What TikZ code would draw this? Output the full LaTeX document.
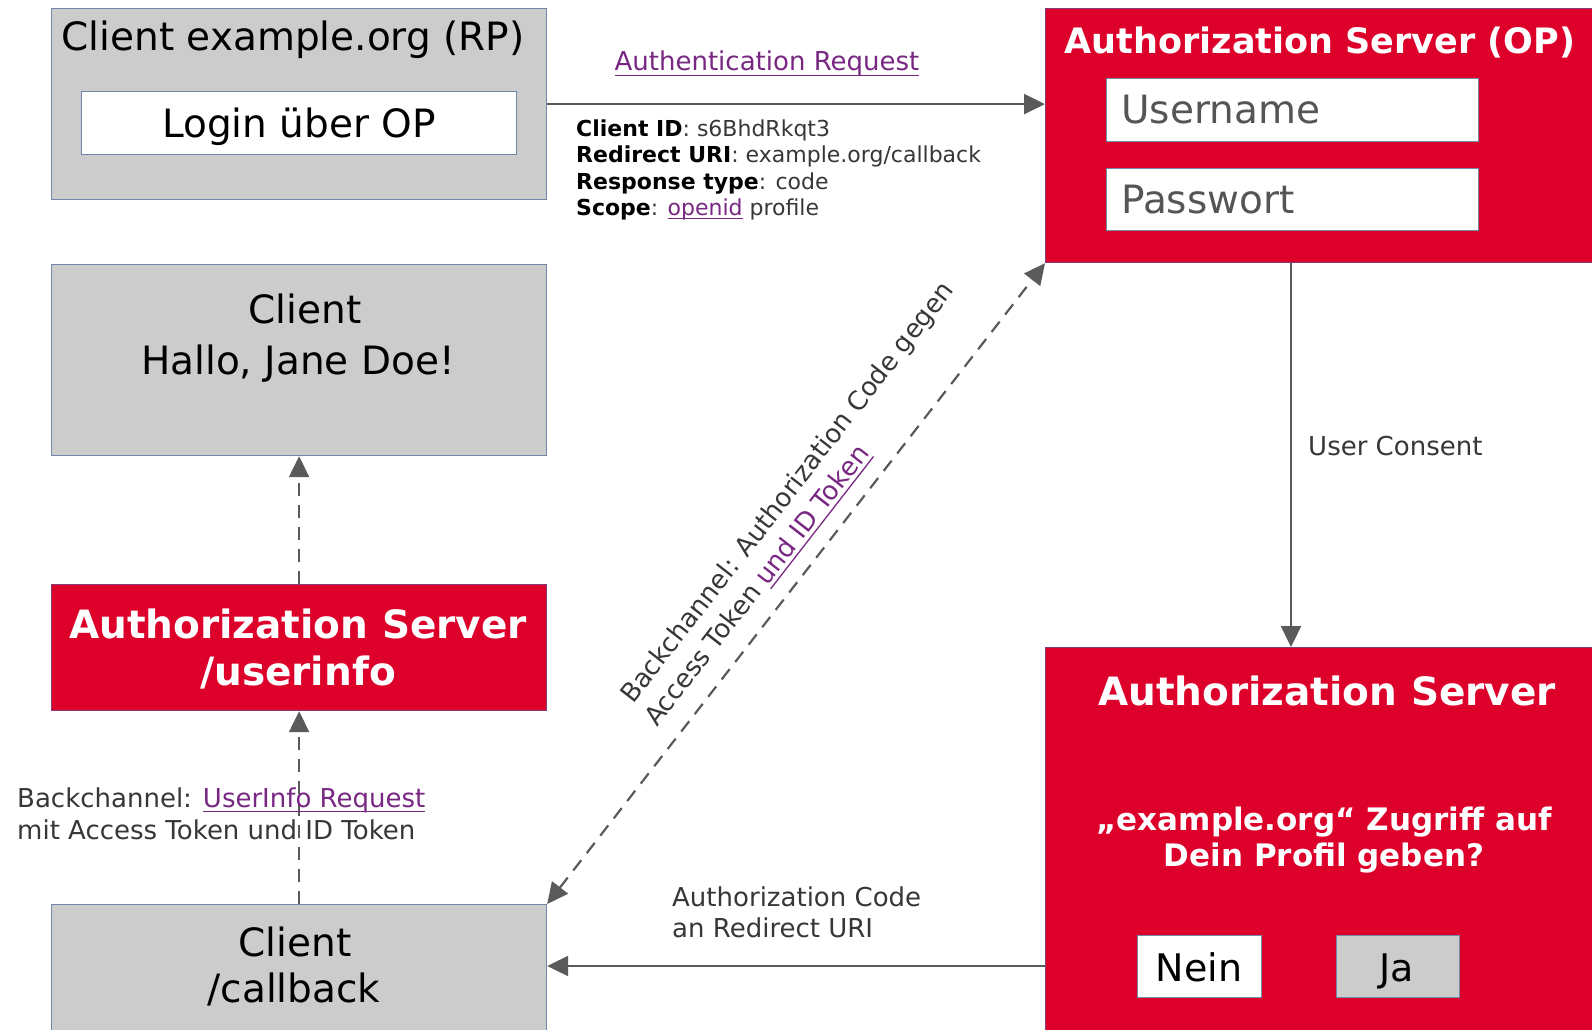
\documentclass[tikz,border=0pt]{standalone}
\usepackage{fontspec}
\setmainfont{DejaVu Sans}
\usetikzlibrary{arrows.meta}
\definecolor{opred}{RGB}{221,0,43}
\definecolor{boxgray}{RGB}{204,204,204}
\definecolor{boxedge}{RGB}{110,135,170}
\definecolor{rededge}{RGB}{130,60,120}
\definecolor{arrowgray}{RGB}{90,90,90}
\definecolor{linkpurple}{RGB}{120,40,130}
\definecolor{labeltext}{RGB}{55,55,55}
\definecolor{fieldtext}{RGB}{85,85,85}
\newcommand\ulnk[2][-5pt]{\textcolor{linkpurple}{\setbox0\hbox{#2}\rlap{\rule[#1]{\wd0}{1.3pt}}\box0}}
\begin{document}
\begin{tikzpicture}[x=1pt,y=-1pt,
  graybox/.style={draw=boxedge, line width=1.2pt, fill=boxgray, anchor=north west, inner sep=0pt},
  redbox/.style={draw=rededge, line width=1.2pt, fill=opred, anchor=north west, inner sep=0pt},
  whitebox/.style={draw=boxedge, line width=1.2pt, fill=white, anchor=north west, inner sep=0pt},
  tip/.tip={Triangle[length=21pt,width=20pt]},
  flow/.style={draw=arrowgray, line width=2.2pt, -tip},
  dflow/.style={flow, dash pattern=on 13pt off 9pt},
  ddflow/.style={dflow, tip-tip},
  txtbig/.style={font=\fontsize{39}{46}\selectfont, text=black, inner sep=0pt, anchor=base},
  txtfield/.style={font=\fontsize{39}{46}\selectfont, text=fieldtext, inner sep=0pt, anchor=base west},
  txtwhite/.style={font=\fontsize{39}{46}\selectfont\bfseries, text=white, inner sep=0pt, anchor=base},
  txtlbl/.style={font=\fontsize{26}{31}\selectfont, text=labeltext, inner sep=0pt, anchor=base west},
  txtparam/.style={font=\fontsize{22}{26}\selectfont, text=labeltext, inner sep=0pt, anchor=base west},
]
\useasboundingbox (0,0) rectangle (1592,1030);
\clip (0,0) rectangle (1592,1030);
\fill[white] (0,0) rectangle (1592,1030);

% boxes
\node[graybox, minimum width=495pt, minimum height=191pt] (rp) at (51,8) {};
\node[whitebox, minimum width=435pt, minimum height=63pt] (login) at (81,91) {};
\node[redbox, minimum width=560pt, minimum height=254pt] (op) at (1045,8) {};
\node[whitebox, minimum width=372pt, minimum height=63pt] (user) at (1106,78) {};
\node[whitebox, minimum width=372pt, minimum height=62pt] (pass) at (1106,168) {};
\node[graybox, minimum width=495pt, minimum height=191pt] (hallo) at (51,264) {};
\node[redbox, minimum width=495pt, minimum height=126pt] (ui) at (51,584) {};
\node[graybox, minimum width=495pt, minimum height=140pt] (cb) at (51,904) {};
\node[redbox, minimum width=560pt, minimum height=400pt] (consent) at (1045,647) {};
\node[whitebox, minimum width=124pt, minimum height=62pt] (nein) at (1137,935) {};
\node[graybox, minimum width=123pt, minimum height=62pt] (ja) at (1336,935) {};

% helper coordinates
\coordinate (ucx) at (1291,0);
\coordinate (acy) at (0,966);

% connectors
\draw[flow] (rp.east) -- (rp.east -| op.west);
\draw[flow] (op.south -| ucx) -- (consent.north -| ucx);
\draw[flow] (consent.west |- acy) -- (cb.east |- acy);
\draw[dflow] (cb.north) -- (ui.south);
\draw[dflow] (ui.north) -- (hallo.south);
\draw[ddflow] (cb.north east) -- (op.south west);

% box texts
\node[txtbig] (rpt) at (293,51) {Client example.org (RP)};
\node[txtbig] (logint) at (299,137) {Login über OP};
\node[txtwhite, font=\fontsize{35}{42}\selectfont\bfseries] (opt) at (1320,54) {Authorization Server (OP)};
\node[txtfield] (usert) at (1121,124) {Username};
\node[txtfield] (passt) at (1121,213) {Passwort};
\node[txtbig] (hallo1) at (305,323) {Client};
\node[txtbig] (hallo2) at (298,374) {Hallo, Jane Doe!};
\node[txtwhite] (ui1) at (298,638) {Authorization Server};
\node[txtwhite] (ui2) at (298,685) {/userinfo};
\node[txtbig] (cb1) at (295,956) {Client};
\node[txtbig] (cb2) at (294,1002) {/callback};
\node[txtwhite] (cs1) at (1327,705) {Authorization Server};
\node[txtwhite, font=\fontsize{31}{36}\selectfont\bfseries] (cs2) at (1324,830) {„example.org“ Zugriff auf};
\node[txtwhite, font=\fontsize{31}{36}\selectfont\bfseries] (cs3) at (1324,866) {Dein Profil geben?};
\node[txtbig, font=\fontsize{38}{46}\selectfont] (neint) at (1199,981) {Nein};
\node[txtbig, font=\fontsize{38}{46}\selectfont] (jat) at (1397,981) {Ja};

% connector labels
\node[txtlbl, anchor=base] (authreq) at (767,71) {\ulnk{Authentication Request}};
\node[txtparam] (p1) at (576,136) {\textcolor{black}{\bfseries Client ID}: s6BhdRkqt3};
\node[txtparam] (p2) at (576,162) {\textcolor{black}{\bfseries Redirect URI}: example.org/callback};
\node[txtparam] (p3) at (576,189) {\textcolor{black}{\bfseries Response type}: code};
\node[txtparam] (p4) at (576,215) {\textcolor{black}{\bfseries Scope}: \ulnk[-4pt]{openid} profile};
\node[txtlbl] (consentl) at (1308,455) {User Consent};
\node[txtlbl] (acl1) at (672,906) {Authorization Code};
\node[txtlbl] (acl2) at (672,937) {an Redirect URI};
\node[txtlbl] (uil1) at (17,807) {Backchannel: \ulnk{UserInfo Request}};
\node[txtlbl] (uil2) at (17,839) {mit Access Token und ID Token};
\node[txtlbl, rotate=52.15] (bc1) at (633,705) {Backchannel: Authorization Code gegen};
\node[txtlbl, rotate=52.15] (bc2) at (657,728) {Access Token \ulnk{und ID Token}};
\end{tikzpicture}
\end{document}
